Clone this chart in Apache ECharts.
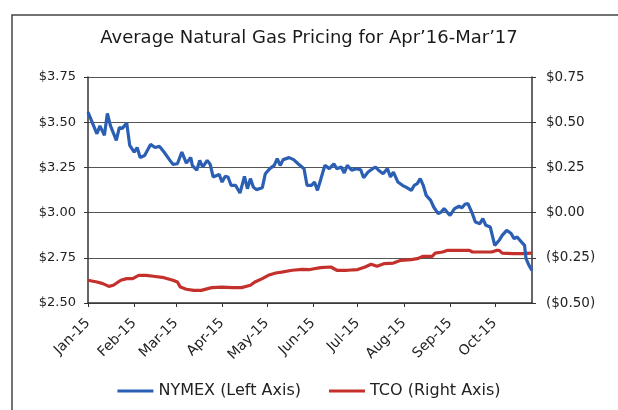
<!DOCTYPE html>
<html>
<head>
<meta charset="utf-8">
<script src="https://cdn.jsdelivr.net/npm/echarts@6/dist/echarts.min.js"></script>
<style>html,body{margin:0;padding:0;background:#fff}#c{width:618px;height:410px}</style>
</head>
<body>
<div id="c"></div>
<script>
// x values are day offsets from 1 Jan 2015
const tickDays = [0, 31, 59, 90, 120, 151, 181, 212, 243, 273];
const tickLabels = ['Jan-15','Feb-15','Mar-15','Apr-15','May-15','Jun-15','Jul-15','Aug-15','Sep-15','Oct-15'];

const nymexDays = [0,6,8,11,13,15,19,21,23,26,28,31,33,35,38,42,45,48,51,55,57,60,63,66,69,70,73,75,77,80,82,84,88,90,92,94,96,99,102,105,107,109,111,113,117,119,122,125,127,129,131,135,138,141,145,147,150,152,154,156,158,159,162,165,167,170,172,174,177,180,183,185,188,191,193,195,198,201,203,205,208,211,214,217,219,221,223,225,227,230,232,235,237,239,241,243,246,249,251,253,255,258,260,263,265,267,270,273,276,278,281,284,286,288,291,293,294,296,298];
const nymexValues = [3.556,3.436,3.48,3.427,3.549,3.482,3.40,3.47,3.466,3.495,3.372,3.335,3.36,3.305,3.316,3.377,3.36,3.366,3.335,3.289,3.267,3.27,3.335,3.274,3.304,3.261,3.234,3.289,3.252,3.289,3.267,3.197,3.211,3.169,3.20,3.197,3.151,3.151,3.108,3.20,3.132,3.188,3.141,3.127,3.138,3.215,3.243,3.261,3.298,3.261,3.293,3.304,3.293,3.27,3.243,3.151,3.151,3.169,3.123,3.178,3.234,3.261,3.243,3.27,3.243,3.252,3.219,3.261,3.234,3.243,3.237,3.193,3.224,3.243,3.252,3.234,3.215,3.243,3.197,3.224,3.169,3.151,3.138,3.123,3.151,3.16,3.188,3.151,3.095,3.068,3.031,2.994,3.003,3.022,3.003,2.985,3.022,3.035,3.027,3.046,3.05,2.994,2.948,2.939,2.967,2.93,2.92,2.819,2.847,2.874,2.902,2.884,2.856,2.865,2.837,2.819,2.745,2.708,2.68];

const tcoDays = [0,6,10,14,17,22,26,30,34,39,44,51,57,60,62,66,71,76,83,90,97,103,109,112,117,121,126,130,137,144,149,156,163,167,174,181,186,190,194,199,205,210,217,221,225,231,233,238,241,249,256,258,265,271,274,276,278,285,291,298];
const tcoValues = [-0.374,-0.384,-0.393,-0.408,-0.402,-0.374,-0.365,-0.365,-0.347,-0.347,-0.352,-0.36,-0.374,-0.384,-0.412,-0.424,-0.43,-0.43,-0.415,-0.412,-0.415,-0.415,-0.402,-0.384,-0.365,-0.347,-0.334,-0.329,-0.319,-0.314,-0.315,-0.304,-0.301,-0.319,-0.319,-0.315,-0.301,-0.286,-0.297,-0.282,-0.279,-0.264,-0.26,-0.255,-0.242,-0.242,-0.224,-0.218,-0.209,-0.209,-0.209,-0.218,-0.218,-0.218,-0.209,-0.209,-0.224,-0.227,-0.227,-0.224];

const leftTickFmt = v => '$' + v.toFixed(2);
const rightTickFmt = v => {
  const a = Math.abs(v);
  const s = '$' + a.toFixed(2);
  return v < -1e-9 ? '(' + s + ')' : s;
};

const zip = (xs, ys) => xs.map((x, i) => [x, ys[i]]);

const chart = echarts.init(document.getElementById('c'), null, {renderer: 'canvas'});
const font = 'DejaVu Sans';
chart.setOption({
  backgroundColor: '#ffffff',
  animation: false,
  textStyle: {fontFamily: font},
  title: {
    text: "Average Natural Gas Pricing for Apr\u201916-Mar\u201917",
    left: 'center', top: 24,
    textStyle: {fontFamily: font, fontSize: 18, fontWeight: 'normal', color: '#1a1a1a'}
  },
  graphic: [{
    type: 'rect', silent: true,
    shape: {x: 12, y: 15, width: 700, height: 500},
    style: {fill: 'none', stroke: '#444', lineWidth: 1.5}
  }],
  legend: {
    bottom: 6, left: 'center',
    itemWidth: 36, itemHeight: 3, itemGap: 28,
    icon: 'rect',
    textStyle: {fontFamily: font, fontSize: 16, color: '#222'},
    data: ['NYMEX (Left Axis)', 'TCO (Right Axis)']
  },
  grid: {left: 88, right: 86, top: 77, bottom: 107},
  xAxis: {
    type: 'value', min: 0, max: 298,
    axisLine: {show: true, onZero: false, lineStyle: {color: '#333', width: 1.5}},
    axisTick: {show: true, customValues: tickDays, length: 4, lineStyle: {color: '#333'}},
    axisLabel: {
      customValues: tickDays, rotate: 45, margin: 18,
      fontFamily: font, fontSize: 14, color: '#222',
      formatter: v => tickLabels[tickDays.indexOf(v)] || ''
    },
    splitLine: {show: false}
  },
  yAxis: [{
    type: 'value', min: 2.5, max: 3.75, interval: 0.25, position: 'left',
    axisLine: {show: true, lineStyle: {color: '#333', width: 1.5}},
    axisTick: {show: true, length: 4, lineStyle: {color: '#333'}},
    axisLabel: {formatter: leftTickFmt, fontFamily: font, fontSize: 13, color: '#222', margin: 12},
    splitLine: {show: true, lineStyle: {color: '#555', width: 1}}
  }, {
    type: 'value', min: -0.5, max: 0.75, interval: 0.25, position: 'right',
    axisLine: {show: true, lineStyle: {color: '#333', width: 1.5}},
    axisTick: {show: true, length: 4, lineStyle: {color: '#333'}},
    axisLabel: {formatter: rightTickFmt, fontFamily: font, fontSize: 13.5, color: '#222', margin: 14},
    splitLine: {show: false}
  }],
  series: [{
    name: 'TCO (Right Axis)', type: 'line', yAxisIndex: 1,
    data: zip(tcoDays, tcoValues), showSymbol: false, symbol: 'none',
    itemStyle: {color: '#c4302b'},
    lineStyle: {color: '#c4302b', width: 3.2}
  }, {
    name: 'NYMEX (Left Axis)', type: 'line', yAxisIndex: 0,
    data: zip(nymexDays, nymexValues), showSymbol: false, symbol: 'none',
    itemStyle: {color: '#2b5fb4'},
    lineStyle: {color: '#2b5fb4', width: 3.2}
  }]
});
</script>
</body>
</html>
